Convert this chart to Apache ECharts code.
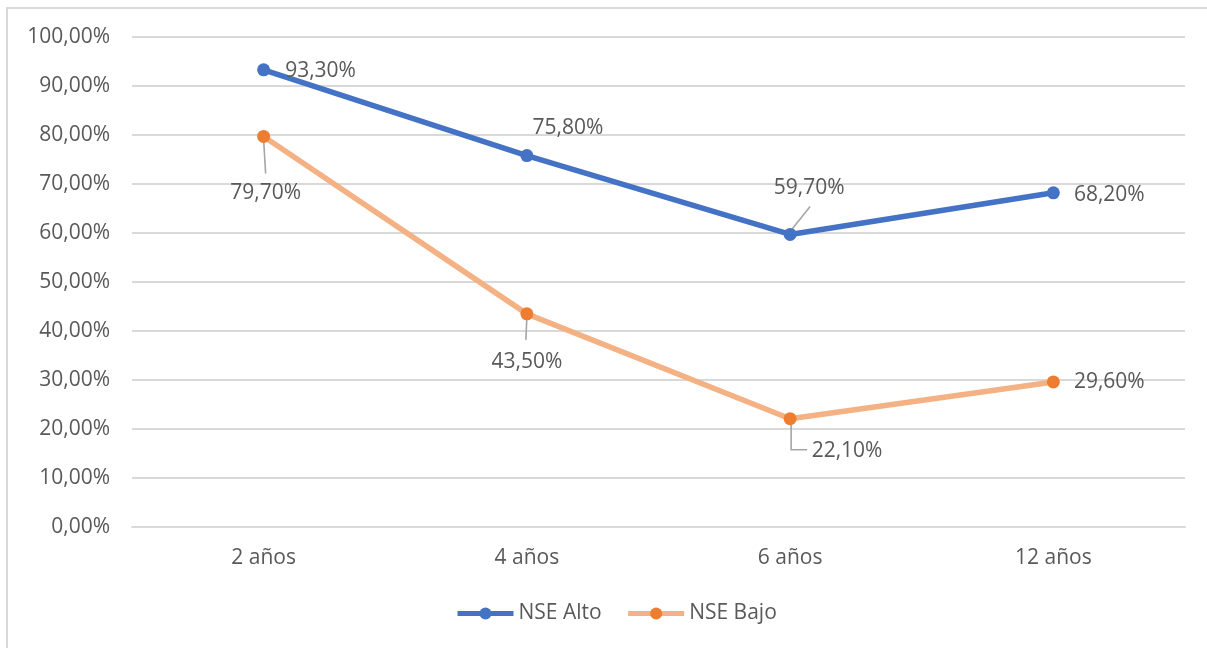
<!DOCTYPE html>
<html>
<head>
<meta charset="utf-8">
<script src="https://cdn.jsdelivr.net/npm/echarts@6/dist/echarts.min.js"></script>
<style>
  html, body { margin: 0; padding: 0; background: #fff; }
  #chart { position: absolute; left: 0; top: 0; width: 1207px; height: 648px; }
  #frame { position: absolute; left: 6px; top: 7px; width: 1220px; height: 700px;
           border-left: 2px solid #d9d9d9; border-top: 2px solid #d9d9d9; pointer-events: none; }
</style>
</head>
<body>
<div id="chart"></div>
<div id="frame"></div>
<script>
    // datos
    var categorias = ['2 años', '4 años', '6 años', '12 años'];
    var nseAlto = [93.3, 75.8, 59.7, 68.2];
    var nseBajo = [79.7, 43.5, 22.1, 29.6];

    var dom = document.getElementById('chart');
    var myChart = echarts.init(dom);

    var fuente = 'Open Sans, Liberation Sans, sans-serif';
    var gris = '#595959';
    var guia = '#a6a6a6';
    var tam = 21;

    function fmt(v) {
        return v.toFixed(2).replace('.', ',') + '%';
    }

    // posicion de cada etiqueta (desplazamiento en px respecto al punto)
    var etiqAlto = [
        { pos: 'right', off: [10, 1] },
        { pos: 'top', off: [41, -6] },
        { pos: 'top', off: [19, -24] },
        { pos: 'right', off: [9, 2] }
    ];
    var etiqBajo = [
        { pos: 'bottom', off: [2, 35] },
        { pos: 'bottom', off: [0, 26] },
        { pos: 'right', off: [10, 32] },
        { pos: 'right', off: [9, 0] }
    ];

    // lineas guia: serie, indice, puntos relativos al punto de datos
    var guias = [
        { serie: nseAlto, i: 2, pts: [[0, -3], [20, -28]] },
        { serie: nseBajo, i: 0, pts: [[0, 3], [2, 37]] },
        { serie: nseBajo, i: 1, pts: [[0, 3], [-1, 26]] },
        { serie: nseBajo, i: 2, pts: [[1, 3], [1, 31], [17, 31]] }
    ];

    function datos(valores, etiq) {
        return valores.map(function(v, i) {
            return {
                value: v,
                label: { position: etiq[i].pos, offset: etiq[i].off }
            };
        });
    }

    var datosGuias = guias.map(function(g, k) {
        return [g.i, g.serie[g.i], k];
    });

    function serieLinea(nombre, valores, etiq, colorPunto, colorLinea) {
        return {
            name: nombre,
            type: 'line',
            z: 3,
            data: datos(valores, etiq),
            symbol: 'circle',
            symbolSize: 13,
            itemStyle: { color: colorPunto },
            lineStyle: { color: colorLinea, width: 5.5 },
            label: {
                show: true,
                color: gris,
                fontSize: tam,
                fontFamily: fuente,
                formatter: function(p) { return fmt(p.value); }
            }
        };
    }

    var option = {
        animation: false,
        textStyle: { fontFamily: fuente },
        grid: {
            left: 132,
            right: 22,
            top: 37,
            bottom: 121
        },
        legend: {
            bottom: 19,
            left: 450,
            itemWidth: 56,
            itemHeight: 15,
            itemGap: 24,
            lineStyle: { width: 5 },
            textStyle: { color: gris, fontSize: tam, fontFamily: fuente },
            data: ['NSE Alto', 'NSE Bajo']
        },
        xAxis: {
            type: 'category',
            data: categorias,
            axisLine: { lineStyle: { color: '#d9d9d9', width: 2 } },
            axisTick: { show: false },
            axisLabel: { color: gris, fontSize: tam, margin: 21, fontFamily: fuente }
        },
        yAxis: {
            type: 'value',
            min: 0,
            max: 100,
            interval: 10,
            axisLine: { show: false },
            axisTick: { show: false },
            axisLabel: {
                color: gris,
                fontSize: tam,
                margin: 22,
                fontFamily: fuente,
                formatter: function(v) { return fmt(v); }
            },
            splitLine: { lineStyle: { color: '#d9d9d9', width: 2 } }
        },
        series: [
            serieLinea('NSE Alto', nseAlto, etiqAlto, '#4472c4', '#4472c4'),
            serieLinea('NSE Bajo', nseBajo, etiqBajo, '#ed7d31', '#f4b183'),
            {
                name: 'guias',
                type: 'custom',
                z: 2,
                silent: true,
                data: datosGuias,
                renderItem: function(params, api) {
                    var p = api.coord([api.value(0), api.value(1)]);
                    var g = guias[api.value(2)];
                    var pts = g.pts.map(function(d) { return [p[0] + d[0], p[1] + d[1]]; });
                    return {
                        type: 'polyline',
                        shape: { points: pts },
                        style: { stroke: guia, lineWidth: 1.6, fill: null }
                    };
                }
            }
        ]
    };

    myChart.setOption(option, true);

    window.addEventListener('resize', function() {
        myChart.resize();
    });
</script>
</body>
</html>
